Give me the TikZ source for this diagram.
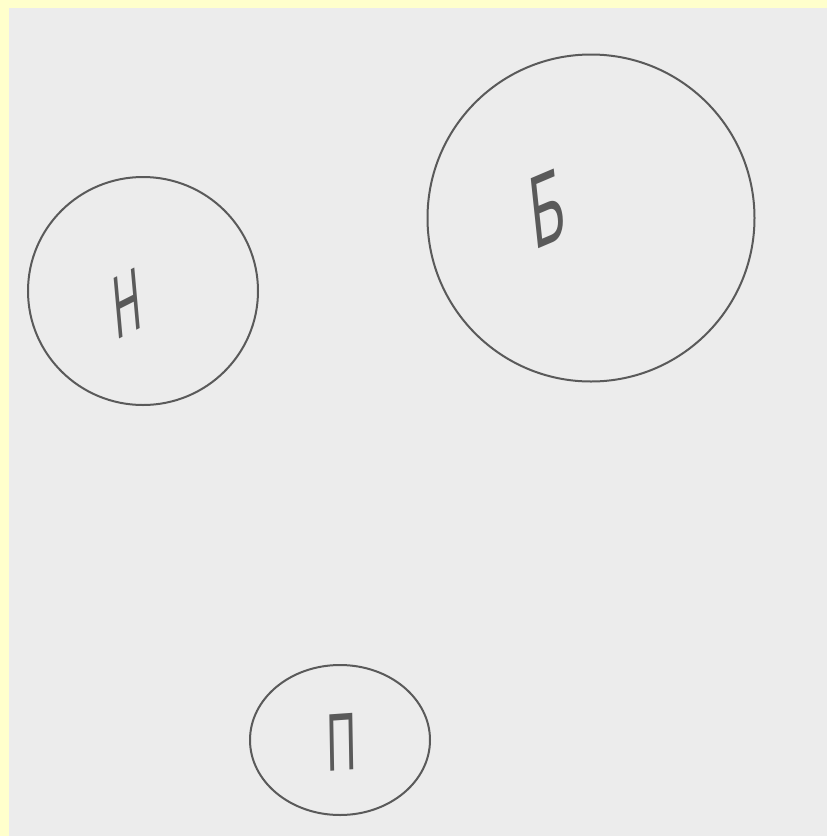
\documentclass[tikz,border=0pt]{standalone}
\usepackage{fontspec}
\setmainfont{Liberation Sans}
\usetikzlibrary{shapes.geometric}
\definecolor{paper}{HTML}{ECECEC}
\definecolor{edge}{HTML}{FFFFCC}
\definecolor{pencil}{HTML}{5A5A5A}
\tikzset{
  ring/.style={draw=pencil, line width=2pt, ellipse, inner sep=0pt},
  letter/.style={text=pencil, font=\fontsize{90}{90}\selectfont, inner sep=0pt}
}
\begin{document}
\begin{tikzpicture}[x=1pt,y=-1pt]
\fill[edge] (0,0) rectangle (827,836);
\fill[paper] (9,8) rectangle (827,836);
\useasboundingbox (0,0) rectangle (827,836);
\node[ring, minimum width=230, minimum height=228] (n) at (143,291) {};
\node[ring, minimum width=327, minimum height=327] (b) at (591,218) {};
\node[ring, minimum width=180, minimum height=150] (p) at (340,740) {};
\node[letter, xscale=0.42, rotate=12] (nl) at (127,303) {Н};
\node[letter, xscale=0.5, rotate=12, font=\fontsize{104}{104}\selectfont] (bl) at (547,208) {Б};
\node[letter, xscale=0.5, rotate=2, font=\fontsize{82}{82}\selectfont] (pl) at (342,742) {П};
\end{tikzpicture}
\end{document}
